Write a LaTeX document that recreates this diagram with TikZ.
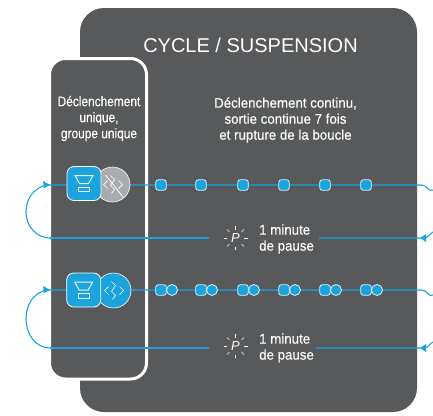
\documentclass[tikz,border=0pt]{standalone}
\usepackage{fontspec}
\setmainfont{Liberation Sans}
\newfontfamily\narrowfont[FakeStretch=0.85,FakeBold=0.25]{Liberation Sans}
\newfontfamily\widefont[FakeStretch=0.95,FakeBold=0.25]{Liberation Sans}
\definecolor{panelgray}{HTML}{58595B}
\definecolor{cycleblue}{HTML}{1AA3DD}
\definecolor{offgray}{HTML}{A9ABAE}
\usetikzlibrary{calc}
\tikzset{
  loopline/.style = {cycleblue,line width=1.1pt},
  lbl/.style = {white,font=\widefont\fontsize{14}{16}\selectfont,align=center,inner sep=0pt},
  blip/.style = {fill=cycleblue,draw=white!85!cycleblue,line width=0.8pt,rounded corners=2.5pt,minimum size=10.5pt,inner sep=0pt},
  dot/.style = {circle,fill=cycleblue,draw=white!85!cycleblue,line width=0.8pt,minimum size=11pt,inner sep=0pt},
  glyph/.style = {white!90!cycleblue,line width=1pt},
}
\newcommand{\lampicon}[2]{
  \node[fill=cycleblue,draw=white,line width=0.8pt,rounded corners=7pt,minimum size=34pt,inner sep=0pt] (#2) at (#1) {};
  \draw[glyph] ($(#2)+(-9,-8)$) -- ($(#2)+(9,-8)$) -- ($(#2)+(4.5,0)$) -- ($(#2)+(-4.5,0)$) -- cycle;
  \draw[glyph] ($(#2)+(-5.5,3.5)$) rectangle ($(#2)+(5.5,8)$);
}
\newcommand{\zigzag}[2]{
  \draw[#2] ($(#1)+(-5,-4)$) -- ($(#1)+(-9,0)$) -- ($(#1)+(-5,4)$);
  \draw[#2] ($(#1)+(-2,-9)$) -- ($(#1)+(2,-5)$) -- ($(#1)+(-2,1)$) -- ($(#1)+(2,5)$) -- ($(#1)+(-1,9)$);
  \draw[#2] ($(#1)+(6,-4)$) -- ($(#1)+(10,0)$) -- ($(#1)+(6,4)$);
}
\newcommand{\pauseicon}[1]{
  \foreach \ang in {0,45,...,315}
    \draw[white,line width=0.6pt] ($(#1)+(\ang:8.5)$) -- ($(#1)+(\ang:12)$);
  \node[white,font=\itshape\fontsize{13}{13}\selectfont,inner sep=0pt] at (#1) {P};
}
\begin{document}
\begin{tikzpicture}[x=1pt,y=-1pt]
  \useasboundingbox (0,0) rectangle (433,415);
  \fill[panelgray,rounded corners=24pt] (80,8) rectangle (417,412);
  \draw[fill=panelgray,rounded corners=16pt,draw=white,line width=3pt] (49.5,58.5) rectangle (146.5,379);

  \node[white,font=\fontsize{20}{20}\selectfont,inner sep=0pt] (title) at (250.5,45) {CYCLE / SUSPENSION};
  \node[lbl,font=\narrowfont\fontsize{14}{16}\selectfont] (single) at (99,118.5) {Déclenchement\\unique,\\groupe unique};
  \node[lbl] (burst) at (285.5,120) {Déclenchement continu,\\sortie continue 7 fois\\et rupture de la boucle};

  % first row
  \coordinate (tipA) at (46,185);
  \coordinate (outA) at (433,190);
  \coordinate (inA) at (433,232);
  \coordinate (backA) at (50,238);
  \node[inner sep=0pt] (pauseA) at (235.5,238) {};
  \node[lbl,anchor=west,align=left] (minA) at (259,239) {1 minute\\de pause};

  \draw[loopline] (backA) to[out=180,in=270] (26,212) to[out=90,in=195] (tipA) -- (50,185) -- (422,185) to[out=0,in=215] (outA);
  \fill[cycleblue] (50,185) -- (43,181) -- (44,188) -- cycle;
  \draw[loopline] (backA) -- (209,238);
  \draw[loopline] (319,238) -- (424,238) to[out=0,in=205] (inA);
  \fill[cycleblue] (420,238) -- (426,234) -- (426,242) -- cycle;

  \node[circle,fill=offgray,draw=white,line width=0.6pt,minimum size=35pt,inner sep=0pt] (offA) at (112.5,184.5) {};
  \zigzag{offA}{white,line width=0.7pt}
  \draw[white,line width=0.8pt] ($(offA)+(-7,-9.5)$) -- ($(offA)+(10.5,12.5)$);
  \lampicon{84,183.5}{lampA}
  \foreach \xpos in {161,201,243,284,325,366}
    \node[blip] (blip\xpos) at (\xpos,185) {};
  \pauseicon{pauseA}

  % second row
  \coordinate (tipB) at (46,290);
  \coordinate (outB) at (433,295);
  \coordinate (inB) at (433,342);
  \coordinate (backB) at (50,348);
  \node[inner sep=0pt] (pauseB) at (235.5,346) {};
  \node[lbl,anchor=west,align=left] (minB) at (259,348) {1 minute\\de pause};

  \draw[loopline] (backB) to[out=180,in=270] (26,319) to[out=90,in=195] (tipB) -- (50,290) -- (422,290) to[out=0,in=215] (outB);
  \fill[cycleblue] (50,290) -- (43,286) -- (44,293) -- cycle;
  \draw[loopline] (backB) -- (209,348);
  \draw[loopline] (316,348) -- (424,348) to[out=0,in=205] (inB);
  \fill[cycleblue] (420,348) -- (426,344) -- (426,352) -- cycle;

  \node[circle,fill=cycleblue,draw=white,line width=0.6pt,minimum size=35pt,inner sep=0pt] (onB) at (113.5,290.5) {};
  \zigzag{onB}{white!90!cycleblue,line width=0.7pt}
  \lampicon{83.7,290}{lampB}
  \foreach \xpos in {161,201,243,284,325,366} {
    \node[blip] (pair\xpos) at (\xpos,290) {};
    \node[dot] (dot\xpos) at ({\xpos+11},290) {};
  }
  \pauseicon{pauseB}
\end{tikzpicture}
\end{document}
